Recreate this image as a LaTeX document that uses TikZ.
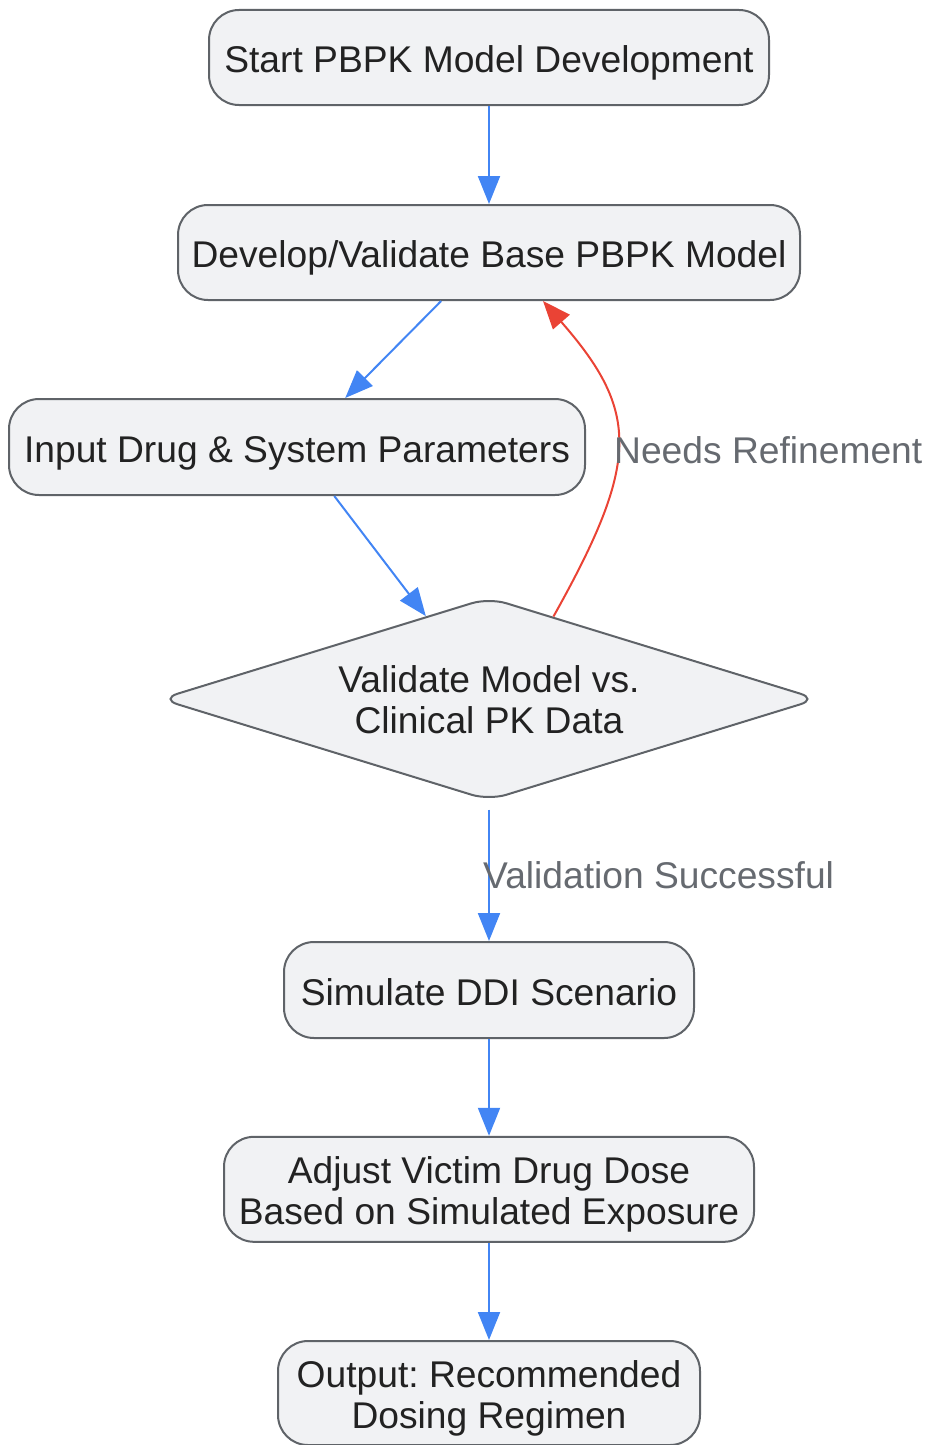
\documentclass[tikz,border=0pt]{standalone}
\usepackage{fontspec}
\setmainfont{Liberation Sans}
\frenchspacing
\usetikzlibrary{arrows.meta,shapes.geometric}
\definecolor{boxfill}{HTML}{F1F2F4}
\definecolor{boxline}{HTML}{5F6368}
\definecolor{txt}{HTML}{222222}
\definecolor{lbl}{HTML}{666A70}
\definecolor{flowblue}{HTML}{4285F4}
\definecolor{flowred}{HTML}{EA4335}
\tikzset{
  box/.style={draw=boxline, fill=boxfill, line width=2pt, rounded corners=30pt,
    inner sep=0pt, align=center, text=txt,
    font=\fontsize{37.2}{41}\selectfont},
  oneline/.style={text height=34pt, text depth=4pt},
  twoline/.style={text height=76pt, text depth=5.3pt},
  decision/.style={diamond, shape aspect=3.24, draw=boxline, fill=boxfill, line width=2pt,
    rounded corners=18pt, inner sep=0pt, align=center, text=txt,
    minimum width=658pt, minimum height=203pt,
    text height=74pt, text depth=5.4pt,
    font=\fontsize{37.2}{41}\selectfont},
  arr/.style={draw=flowblue, line width=2pt, -{Triangle[length=28pt,width=22pt]}},
  redarr/.style={draw=flowred, line width=2pt, -{Triangle[length=28pt,width=22pt]}},
  edgelabel/.style={text=lbl, inner sep=0pt, font=\fontsize{37.2}{41}\selectfont}
}
\begin{document}
\begin{tikzpicture}[x=1pt,y=-1pt]
\useasboundingbox (0,0) rectangle (927,1445);
\node[box, oneline, minimum width=560pt, minimum height=95pt] (start) at (489,57.5) {Start PBPK Model Development};
\node[box, oneline, minimum width=622pt, minimum height=95pt] (develop) at (489,252.5) {Develop/Validate Base PBPK Model};
\node[box, oneline, minimum width=576pt, minimum height=96pt] (input) at (297,447) {Input Drug \& System Parameters};
\node[decision] (diamond) at (489,699) {Validate Model vs.\\Clinical PK Data};
\node[box, oneline, minimum width=410pt, minimum height=96pt] (simulate) at (489,990) {Simulate DDI Scenario};
\node[box, twoline, minimum width=530pt, minimum height=105pt] (adjust) at (489,1189.3) {Adjust Victim Drug Dose\\Based on Simulated Exposure};
\node[box, twoline, minimum width=422pt, minimum height=104pt] (output) at (489,1393) {Output: Recommended\\Dosing Regimen};

\draw[arr] (start) -- (develop);
\draw[arr] (develop) -- (input);
\draw[arr] (input) -- (diamond);
\draw[redarr] (diamond.52) .. controls (640,462) and (640,412) .. ([xshift=54pt]develop.south);
\draw[arr, shorten <=8pt] (diamond.south) -- (simulate.north);
\draw[arr] (simulate) -- (adjust);
\draw[arr] (adjust) -- (output);

\node[edgelabel, anchor=west] (lblrefine) at (614,450) {Needs Refinement};
\node[edgelabel, anchor=west] (lblsuccess) at (483,875) {Validation Successful};
\end{tikzpicture}
\end{document}
